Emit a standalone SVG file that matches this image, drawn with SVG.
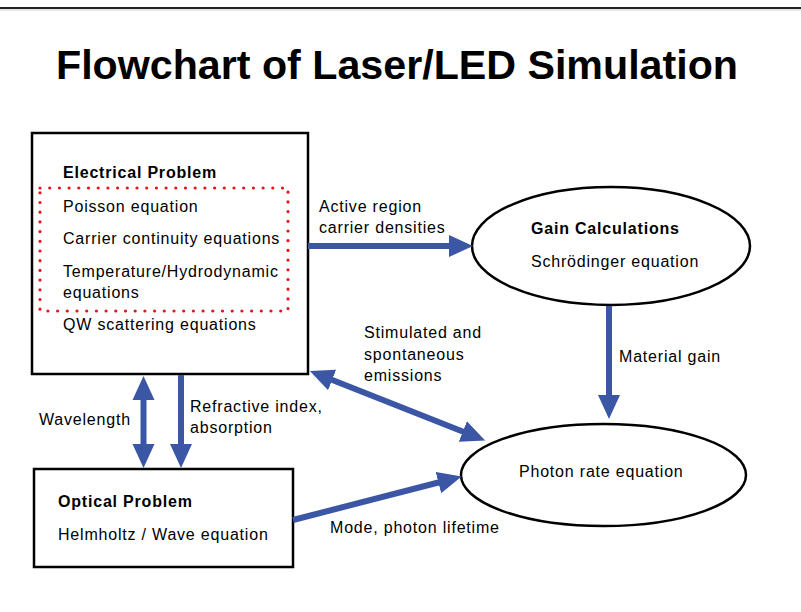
<svg xmlns="http://www.w3.org/2000/svg" width="801" height="612" viewBox="0 0 801 612">
<style>
.box{fill:#fff;stroke:#000;stroke-width:2.5}
.t{font-family:"Liberation Sans",Arial,sans-serif;font-size:16px;letter-spacing:0.8px;fill:#000}
.b{font-weight:bold}
.c{stroke:#3B56A5;stroke-width:6;fill:none}
</style>
<defs>
<marker id="ah" markerUnits="userSpaceOnUse" markerWidth="24" markerHeight="24" viewBox="0 0 24 22" refX="12" refY="11" orient="auto-start-reverse">
<path d="M0,0 L24,11 L0,22 z" fill="#3B56A5"/>
</marker>
</defs>
<rect width="801" height="612" fill="#fff"/>
<line x1="0" y1="8" x2="801" y2="8" stroke="#222" stroke-width="2"/>
<line x1="0" y1="10" x2="801" y2="10" stroke="#ccc" stroke-width="1"/>
<text x="56" y="79" font-family="Liberation Sans,Arial,sans-serif" font-weight="bold" font-size="41" textLength="682" lengthAdjust="spacingAndGlyphs">Flowchart of Laser/LED Simulation</text>

<g id="electrical">
<rect class="box" x="32" y="133" width="276" height="241"/>
<rect x="40" y="188" width="248" height="123" fill="none" stroke="#E8141C" stroke-width="3.2" stroke-linecap="round" stroke-dasharray="0 9.7"/>
<text class="t b" x="63" y="178">Electrical Problem</text>
<text class="t" x="63" y="212">Poisson equation</text>
<text class="t" x="63" y="244">Carrier continuity equations</text>
<text class="t" x="63" y="277">Temperature/Hydrodynamic</text>
<text class="t" x="63" y="298">equations</text>
<text class="t" x="63" y="330">QW scattering equations</text>
</g>

<g id="gain">
<ellipse cx="611" cy="246" rx="139" ry="59" fill="#fff" stroke="#000" stroke-width="2.5"/>
<text class="t b" x="531" y="234">Gain Calculations</text>
<text class="t" x="531" y="267">Schrödinger equation</text>
</g>

<g id="photon">
<ellipse cx="603.5" cy="475" rx="142.5" ry="51" fill="#fff" stroke="#000" stroke-width="2.5"/>
<text class="t" x="519" y="477">Photon rate equation</text>
</g>

<g id="optical">
<rect class="box" x="34" y="469" width="259" height="98"/>
<text class="t b" x="58" y="507">Optical Problem</text>
<text class="t" x="58" y="540">Helmholtz / Wave equation</text>
</g>

<g id="connectors">
<line class="c" x1="308" y1="246" x2="461" y2="246" marker-end="url(#ah)"/>
<line class="c" x1="609" y1="306" x2="609" y2="407" marker-end="url(#ah)"/>
<line class="c" x1="143.5" y1="388" x2="143.5" y2="456" marker-start="url(#ah)" marker-end="url(#ah)"/>
<line class="c" x1="181" y1="375" x2="181" y2="456" marker-end="url(#ah)"/>
<line class="c" x1="321" y1="375.5" x2="474" y2="436" marker-start="url(#ah)" marker-end="url(#ah)"/>
<line class="c" x1="293" y1="520" x2="450" y2="479.5" marker-end="url(#ah)"/>
<text class="t" x="319" y="212">Active region</text>
<text class="t" x="319" y="233">carrier densities</text>
<text class="t" x="619" y="362">Material gain</text>
<text class="t" x="364" y="338">Stimulated and</text>
<text class="t" x="364" y="360">spontaneous</text>
<text class="t" x="364" y="381">emissions</text>
<text class="t" x="39" y="425">Wavelength</text>
<text class="t" x="190" y="412">Refractive index,</text>
<text class="t" x="190" y="433">absorption</text>
<text class="t" x="330" y="533">Mode, photon lifetime</text>
</g>
</svg>
